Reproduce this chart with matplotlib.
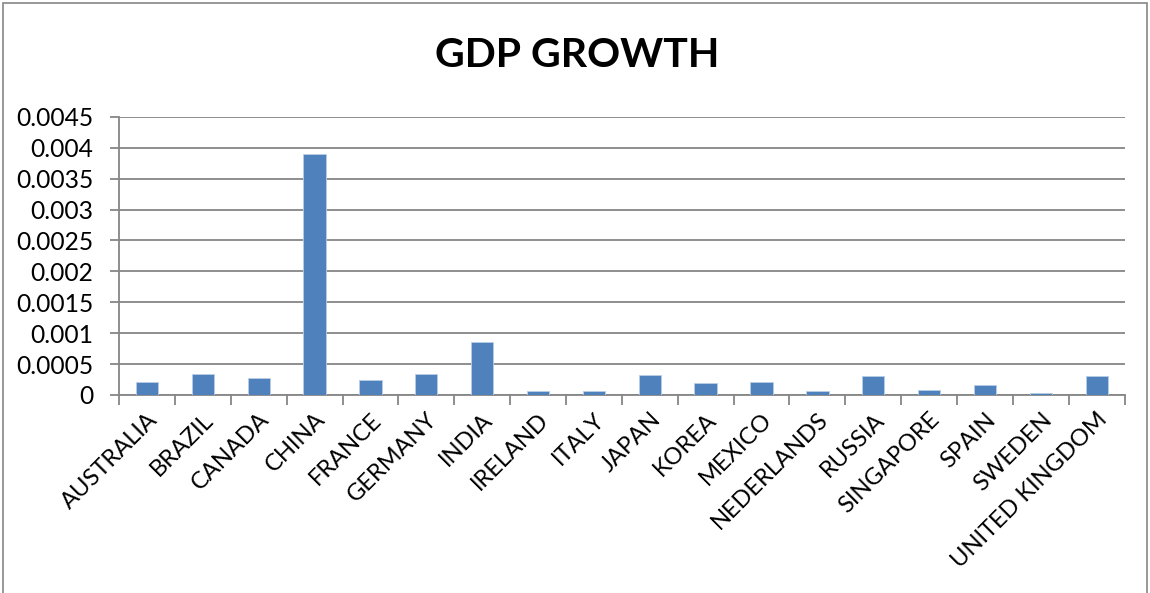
import matplotlib
matplotlib.use("Agg")
import matplotlib.pyplot as plt
from matplotlib.patches import Rectangle
from matplotlib.ticker import FixedLocator, FuncFormatter

countries = ["AUSTRALIA", "BRAZIL", "CANADA", "CHINA", "FRANCE", "GERMANY",
             "INDIA", "IRELAND", "ITALY", "JAPAN", "KOREA", "MEXICO",
             "NEDERLANDS", "RUSSIA", "SINGAPORE", "SPAIN", "SWEDEN",
             "UNITED KINGDOM"]
gdp_growth = [0.000215, 0.00034, 0.00027, 0.0039, 0.000247, 0.00034,
              0.000855, 0.00007, 0.00007, 0.000317, 0.0002, 0.000204,
              0.00007, 0.000312, 0.000086, 0.000156, 0.000027, 0.0003]
y_ticks = [0, 0.0005, 0.001, 0.0015, 0.002, 0.0025, 0.003, 0.0035, 0.004, 0.0045]
title = "GDP GROWTH"

plt.rcParams["font.family"] = ["Lato", "DejaVu Sans"]

fig = plt.figure(figsize=(11.5, 5.93), dpi=100)
ax = fig.add_axes([0.1035, 0.334, 0.8745, 0.469])

x = list(range(len(countries)))
ax.bar(x, gdp_growth, width=0.4, color="#4F81BD", edgecolor="#B9CDE5",
       linewidth=0.6, zorder=3)

ax.set_xlim(-0.5, len(countries) - 0.5)
ax.set_ylim(0, 0.0045)
ax.yaxis.set_major_locator(FixedLocator(y_ticks))
ax.yaxis.set_major_formatter(FuncFormatter(lambda v, p: f"{v:g}"))
ax.grid(axis="y", color="#868686", linewidth=1.3, zorder=0)

# category labels at bar centres, tick marks between categories
ax.set_xticks(x)
ax.set_xticklabels(countries, rotation=45, ha="right", rotation_mode="anchor",
                   fontsize=17)
ax.tick_params(axis="x", length=0, pad=10)
ax.set_xticks([i - 0.5 for i in range(len(countries) + 1)], minor=True)
ax.tick_params(axis="x", which="minor", length=7, width=1.3, color="#868686")
ax.tick_params(axis="y", length=6.5, width=1.3, color="#868686",
               labelsize=17.7, pad=12)

for side in ("top", "right"):
    ax.spines[side].set_visible(False)
for side in ("left", "bottom"):
    ax.spines[side].set_color("#868686")
    ax.spines[side].set_linewidth(1.3)

fig.text(0.502, 0.907, title, ha="center", va="center", fontsize=29.5,
         fontweight="bold")

fig.patches.append(Rectangle((0.003, -0.01), 0.994, 1.005,
                             transform=fig.transFigure, fill=False,
                             edgecolor="#868686", linewidth=1.2))

fig.savefig("out.png", dpi=100, facecolor="white")
